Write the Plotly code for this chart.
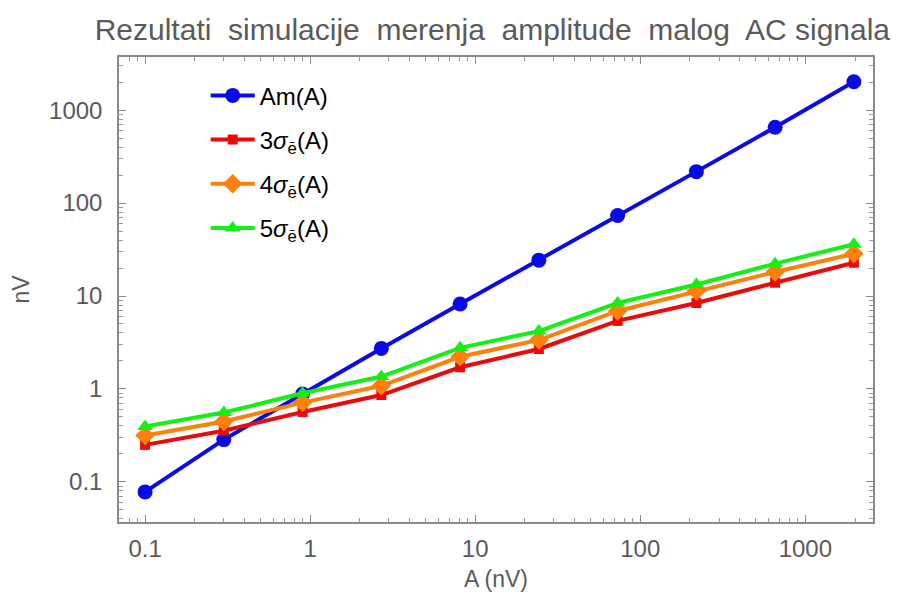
import plotly.graph_objects as go

A = [0.1, 0.3, 0.9, 2.7, 8.1, 24.3, 72.9, 218.7, 656.1, 1968.3]
Am = [0.078, 0.285, 0.88, 2.73, 8.2, 24.3, 73.5, 218, 655, 2020]
s3 = [0.25, 0.355, 0.565, 0.86, 1.71, 2.69, 5.4, 8.4, 13.9, 22.8]
s4 = [0.315, 0.446, 0.713, 1.08, 2.22, 3.36, 6.9, 11.3, 18.1, 28.5]
s5 = [0.394, 0.557, 0.897, 1.36, 2.77, 4.19, 8.4, 13.3, 22.3, 36.0]

names = ["Am(A)",
         "3<i>σ</i><sub>ē</sub>(A)",
         "4<i>σ</i><sub>ē</sub>(A)",
         "5<i>σ</i><sub>ē</sub>(A)"]
series = [Am, s3, s4, s5]
colors = ["rgb(10,10,230)", "rgb(235,10,10)", "rgb(255,128,10)", "rgb(20,240,20)"]
symbols = ["circle", "square", "diamond", "triangle-up"]
sizes = [15, 10, 15, 14]

fig = go.Figure()
for i, (n, y, c, s, sz) in enumerate(zip(names, series, colors, symbols, sizes)):
    fig.add_trace(go.Scatter(
        x=A, y=y, name=n, mode="lines+markers", legendgroup=f"g{i}",
        line=dict(color=c, width=4),
        marker=dict(color=c, symbol=s, size=sz, line=dict(width=0)),
    ))

axis_common = dict(
    type="log", showgrid=False, zeroline=False,
    showline=True, linecolor="#8a8a8a", linewidth=1.5, mirror="ticks",
    ticks="inside", ticklen=7, tickcolor="#8a8a8a", tickwidth=1,
    dtick=1,
    minor=dict(ticks="inside", ticklen=4, tickcolor="#9a9a9a", dtick="D1", showgrid=False),
    tickfont=dict(family="Liberation Sans", size=24, color="#5a5a5a"),
    title_font=dict(family="Liberation Sans", size=23, color="#5a5a5a"),
)

fig.update_layout(
    width=902, height=604,
    paper_bgcolor="white", plot_bgcolor="white",
    margin=dict(l=111, r=37, t=49, b=90),
    title=dict(text="Rezultati  simulacije  merenja  amplitude  malog  AC signala",
               x=0.537, xanchor="center", y=0.965, yanchor="middle",
               font=dict(family="Liberation Sans", size=30, color="#5a5a5a")),
    xaxis=dict(axis_common, range=[-1.158, 3.41], ticklabelstandoff=4,
               title=dict(text="A (nV)", standoff=10)),
    yaxis=dict(axis_common, range=[-1.432, 3.572], ticklabelstandoff=10,
               title=dict(text="nV", standoff=14)),
    legend=dict(x=0.115, y=0.965, xanchor="left", yanchor="top",
                bgcolor="rgba(0,0,0,0)", tracegroupgap=10,
                font=dict(family="Liberation Sans", size=24, color="black"),
                itemwidth=44),
    showlegend=True,
)

fig.write_html("out.html")
